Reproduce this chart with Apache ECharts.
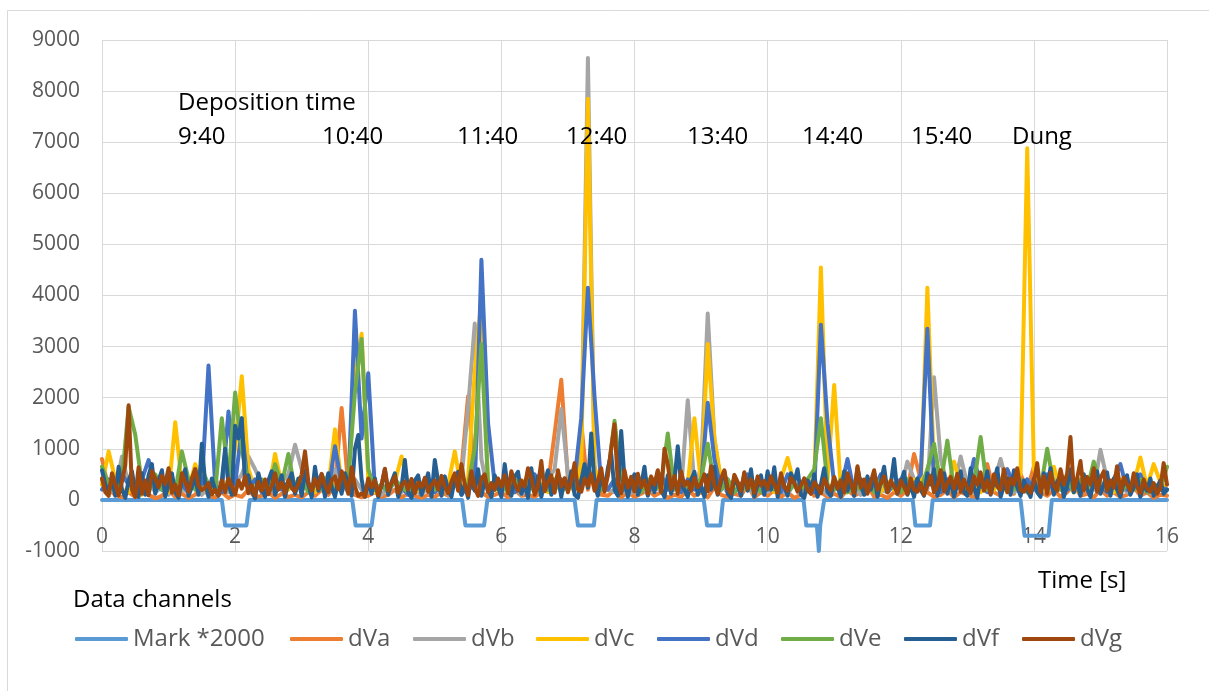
<!DOCTYPE html>
<html>
<head>
<meta charset="utf-8">
<script src="https://cdn.jsdelivr.net/npm/echarts@6/dist/echarts.min.js"></script>
<style>html,body{margin:0;padding:0;background:#fff;}#c{width:1209px;height:691px;}</style>
</head>
<body>
<div id="c"></div>
<script>
// ---- data ----
const seriesNames = ['Mark *2000','dVa','dVb','dVc','dVd','dVe','dVf','dVg'];
const xTicks = [0,2,4,6,8,10,12,14,16];
const yTicks = [-1000,0,1000,2000,3000,4000,5000,6000,7000,8000,9000];
const annotations = ['Deposition time','9:40','10:40','11:40','12:40','13:40','14:40','15:40','Dung'];
const STEP_SLOW = 0.1;   // s between samples, dVa..dVe
const STEP_FAST = 0.05;  // s between samples, dVf, dVg

// Mark *2000 : [time, value]
const mark = [[0,0],[1.80,0],[1.85,-500],[2.17,-500],[2.22,0],[3.76,0],[3.81,-500],[4.05,-500],[4.10,0],
  [5.41,0],[5.46,-500],[5.74,-500],[5.79,0],[7.10,0],[7.15,-500],[7.39,-500],[7.43,0],
  [9.04,0],[9.09,-500],[9.29,-500],[9.33,0],[10.54,0],[10.58,-500],[10.74,-500],[10.77,-1000],[10.79,-500],[10.81,-500],[10.85,0],
  [12.18,0],[12.22,-500],[12.44,-500],[12.48,0],[13.80,0],[13.86,-700],[14.22,-700],[14.27,0],[16,0]];

const dVa = [
  800,200,100,50,150,60,250,100,30,80,
  200,60,120,40,100,300,80,50,150,40,
  100,60,200,50,80,150,40,120,60,100,
  50,150,80,200,100,300,1800,250,100,50,
  80,150,60,100,200,50,120,80,40,100,
  60,150,80,300,600,2030,400,150,60,100,
  150,50,200,80,100,60,150,300,1300,2350,
  400,150,1500,200,650,100,80,200,50,150,
  60,120,200,80,150,40,100,60,200,80,
  150,50,250,100,60,120,80,300,50,150,
  80,200,60,150,40,100,250,80,150,60,
  120,50,200,80,150,300,60,100,40,150,
  80,200,900,400,150,60,100,200,50,150,
  100,60,200,700,150,80,600,120,500,200,
  650,150,80,200,60,150,300,80,120,50,
  200,80,150,60,100,250,80,150,40,100,
  80];
const dVb = [
  400,200,150,850,300,100,200,350,150,250,
  100,300,200,150,350,100,250,400,200,150,
  300,500,850,600,300,200,150,350,500,1080,
  600,300,200,400,250,600,300,150,400,200,
  150,300,100,250,400,150,300,200,100,250,
  200,350,100,300,400,1800,3450,800,150,200,
  300,150,250,100,300,200,150,400,600,1780,
  500,300,900,8650,500,300,200,150,300,100,
  200,350,100,300,150,250,400,200,1950,300,
  600,3650,1200,300,150,400,200,300,100,250,
  150,300,200,100,350,200,150,300,250,100,
  200,350,150,300,100,250,400,200,150,300,
  200,750,400,300,200,2400,800,300,200,850,
  300,150,400,200,350,800,300,150,250,400,
  200,300,150,400,250,200,350,150,300,200,
  980,400,200,300,150,250,400,200,100,300,
  200];
const dVc = [
  300,950,400,200,150,350,100,250,400,200,
  150,1520,300,200,700,250,150,300,200,400,
  1000,2420,600,200,300,150,900,300,200,350,
  200,300,150,400,250,1380,300,400,2350,3250,
  400,150,300,200,350,850,300,150,250,200,
  300,150,300,950,200,400,2500,3950,300,200,
  200,350,150,300,450,200,300,150,400,250,
  300,200,700,7850,600,300,200,400,150,300,
  200,350,150,300,200,400,250,150,300,1600,
  300,3050,1200,400,200,300,150,350,200,300,
  300,150,400,820,300,200,400,300,4550,400,
  2250,200,300,150,400,250,300,150,350,200,
  300,150,400,200,4150,600,300,200,750,300,
  200,350,150,300,200,400,150,300,500,6880,
  600,300,150,650,200,400,150,300,200,350,
  200,300,150,400,250,300,830,250,700,350,
  200];
const dVd = [
  200,400,150,500,300,250,400,780,300,200,
  500,200,300,150,600,300,2630,300,150,1730,
  300,1400,200,400,150,300,500,200,350,150,
  400,200,300,500,150,1050,300,200,3700,1200,
  2480,200,300,150,400,250,100,300,200,400,
  150,300,200,400,100,300,200,4700,1500,300,
  200,400,150,300,200,500,150,300,200,400,
  300,400,1600,4150,2000,300,200,400,150,300,
  200,400,150,300,500,200,350,150,400,200,
  300,1900,800,200,400,150,300,500,200,350,
  200,400,150,500,300,200,400,150,3430,1500,
  300,200,800,150,400,300,200,500,150,300,
  400,200,300,500,3350,300,150,400,200,300,
  200,800,300,150,400,200,600,300,150,400,
  200,300,500,150,400,200,300,150,400,250,
  300,150,400,700,200,300,500,150,300,250,
  200];
const dVe = [
  650,300,150,400,1820,1270,300,150,500,200,
  300,150,950,400,200,600,300,150,1600,400,
  2100,1000,300,200,400,150,700,300,900,200,
  400,150,300,200,500,150,300,400,2100,3150,
  600,200,300,150,400,250,150,300,200,350,
  200,400,150,300,200,300,1000,3050,300,200,
  300,150,400,200,350,150,300,200,400,150,
  300,200,400,600,300,200,500,1550,400,200,
  300,150,400,200,300,1300,200,400,150,300,
  400,1100,300,200,400,150,300,200,350,150,
  300,200,400,150,300,200,400,600,1600,300,
  200,400,150,300,200,350,150,400,200,300,
  150,400,300,200,600,1100,300,1160,200,400,
  150,300,1230,200,400,150,300,200,400,150,
  300,200,1000,300,200,400,150,400,200,750,
  300,200,400,150,300,200,400,150,300,200,
  650];
const dVf = [
  580,300,150,420,80,650,200,40,380,560,150,60,520,100,480,700,120,380,580,60,
  300,520,150,40,380,600,80,250,460,100,1100,320,60,420,200,80,380,1000,300,100,
  1450,1200,1600,300,480,180,30,520,250,60,380,560,100,280,480,60,350,520,120,420,
  80,580,300,50,650,180,420,60,520,250,60,380,120,520,300,80,1000,1270,400,60,
  350,120,420,60,280,600,100,350,520,60,250,780,150,40,380,480,100,300,520,60,
  780,350,80,460,200,60,420,550,100,300,40,520,180,600,80,380,200,60,480,250,
  60,700,200,80,450,550,120,300,40,620,180,460,60,350,580,100,280,480,60,420,
  200,560,100,40,380,700,240,1300,300,80,520,180,620,900,200,80,1350,400,60,350,
  500,100,280,650,80,420,150,560,200,60,480,120,380,1050,300,200,60,400,550,100,
  280,60,480,200,650,100,350,560,120,40,420,300,80,520,180,600,60,300,480,100,
  560,200,640,60,450,280,80,520,350,600,100,40,380,180,500,60,300,620,150,80,
  420,250,60,560,180,380,80,620,300,100,460,200,520,60,350,650,150,300,800,120,
  350,550,100,280,60,420,200,80,520,300,600,80,380,520,120,400,60,300,560,150,
  80,620,250,40,480,200,560,100,350,620,60,280,420,100,580,250,80,380,200,60,
  420,150,60,520,280,620,100,350,480,60,280,600,150,400,80,500,220,60,380,560,
  120,300,540,80,420,200,60,350,480,100,250,500,60,300,180,420,80,250,380,120,
  200];
const dVg = [
  420,150,80,520,300,90,360,680,1850,200,60,640,120,380,90,560,420,250,470,310,
  620,140,300,90,520,350,160,420,600,280,190,240,330,110,200,90,380,150,420,270,
  110,380,220,460,130,290,90,350,180,400,110,280,520,200,340,140,390,230,170,310,
  500,950,350,180,420,220,510,290,150,380,460,210,560,380,120,640,260,80,130,70,
  420,250,380,90,300,610,180,330,460,140,280,360,200,410,130,340,250,430,160,290,
  380,200,470,260,130,360,520,180,700,300,90,560,240,80,420,500,150,330,200,420,
  260,480,130,560,320,180,380,260,620,420,100,260,760,170,350,480,140,580,260,420,
  150,380,720,210,160,420,280,500,180,380,620,160,480,1000,1480,320,130,580,240,450,
  160,510,250,380,120,460,300,580,150,1000,700,210,470,120,560,280,360,180,430,250,
  320,500,170,660,280,120,420,580,220,130,490,350,180,540,220,400,140,460,280,370,
  220,460,300,140,520,250,180,430,330,160,280,420,200,120,340,260,130,410,270,180,
  450,220,380,150,520,330,140,660,240,400,120,350,580,200,310,460,150,380,260,140,
  380,250,120,420,200,160,330,100,280,470,150,260,580,170,330,450,220,510,160,400,
  240,130,460,300,540,180,380,120,500,260,200,600,150,420,300,620,200,160,280,140,
  350,720,150,460,120,530,280,180,600,300,520,1230,200,420,760,180,450,300,620,160,
  420,560,180,380,240,660,150,440,300,180,520,260,140,400,220,160,330,120,230,720,
  300];

// ---- chart ----
const colors = ['#5B9BD5','#ED7D31','#A5A5A5','#FFC000','#4472C4','#70AD47','#255E91','#9E480E'];
const FONT = '"Open Sans", "Noto Sans", sans-serif';
function toPairs(arr, step){ return arr.map((v,i)=>[+(i*step).toFixed(2), v]); }
const seriesData = [mark, toPairs(dVa,STEP_SLOW), toPairs(dVb,STEP_SLOW), toPairs(dVc,STEP_SLOW),
  toPairs(dVd,STEP_SLOW), toPairs(dVe,STEP_SLOW), toPairs(dVf,STEP_FAST), toPairs(dVg,STEP_FAST)];

const chart = echarts.init(document.getElementById('c'), null, {renderer:'canvas'});
const legendLefts = [75,290,413,536,657,781,904,1022];
const annoPos = [[178,103],[178,137],[322,137],[457,137],[566,137],[687,137],[802,137],[911,137],[1012,137]];

const option = {
  animation: false,
  backgroundColor: '#fff',
  color: colors,
  grid: {left:102, right:42, top:40, bottom:140, containLabel:false},
  xAxis: {
    type:'value', min:xTicks[0], max:xTicks[xTicks.length-1], interval:2,
    axisLine:{show:true, onZero:true, lineStyle:{color:'#d9d9d9', width:1}},
    axisTick:{show:false},
    axisLabel:{fontSize:21, color:'#595959', fontFamily:FONT, margin:-24, formatter:v=>String(v)},
    splitLine:{show:true, lineStyle:{color:'#d9d9d9', width:1}}
  },
  yAxis: {
    type:'value', min:yTicks[0], max:yTicks[yTicks.length-1], interval:1000,
    axisLine:{show:false}, axisTick:{show:false},
    axisLabel:{fontSize:21, color:'#595959', fontFamily:FONT, margin:22, formatter:v=>String(v)},
    splitLine:{show:true, lineStyle:{color:'#d9d9d9', width:1}}
  },
  legend: seriesNames.map((n,i)=>({
    data:[n], left:legendLefts[i], top:627, padding:0, orient:'horizontal',
    itemWidth:53, itemHeight:4, icon:'roundRect',
    textStyle:{fontSize:24, color:'#595959', fontFamily:FONT}
  })),
  series: seriesNames.map((n,i)=>({
    name:n, type:'line', data:seriesData[i], showSymbol:false, symbol:'none',
    lineStyle:{width:4, color:colors[i], join:'round', cap:'round'},
    itemStyle:{color:colors[i]},
    emphasis:{disabled:true}, silent:true, clip:true
  })),
  graphic: [
    {type:'rect', shape:{x:7.5, y:10.5, width:1400, height:900}, style:{fill:'none', stroke:'#d9d9d9', lineWidth:1}, silent:true, z:-10},
    ...annotations.map((t,i)=>({type:'text', x:annoPos[i][0], y:annoPos[i][1],
      style:{text:t, fill:'#000', font:'24px '+FONT, align:'left', verticalAlign:'middle'}, z:100})),
    {type:'text', x:1038, y:581, style:{text:'Time [s]', fill:'#000', font:'24px '+FONT, align:'left', verticalAlign:'middle'}},
    {type:'text', x:73, y:600, style:{text:'Data channels', fill:'#000', font:'24px '+FONT, align:'left', verticalAlign:'middle'}}
  ]
};
chart.setOption(option);
</script>
</body>
</html>
